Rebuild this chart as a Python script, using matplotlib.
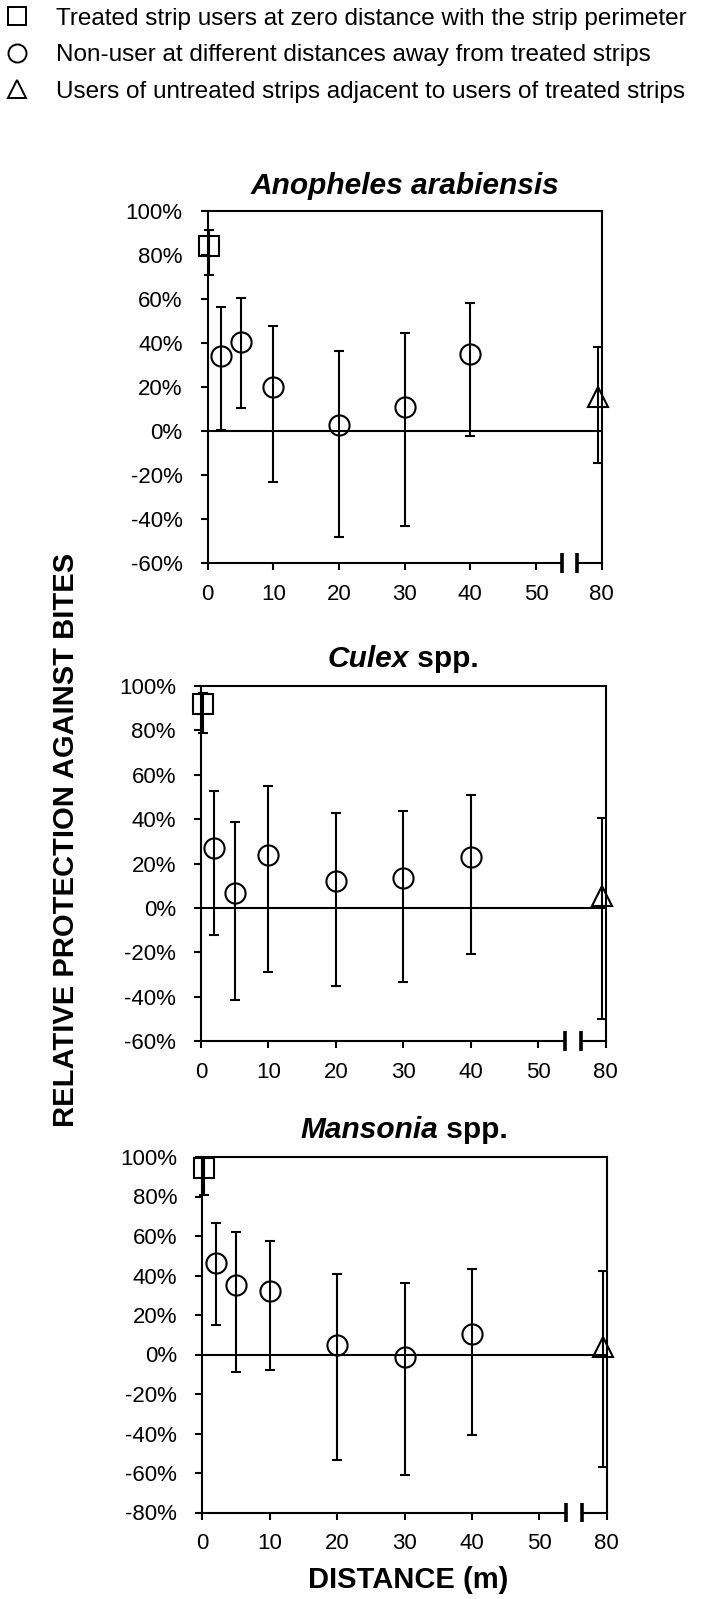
import matplotlib
matplotlib.use('Agg')
import matplotlib.pyplot as plt
from matplotlib.lines import Line2D

plt.rcParams['font.family'] = ['Liberation Sans', 'DejaVu Sans']

# ---------------- data (percent) ----------------
title_italic = ['Anopheles arabiensis', 'Culex', 'Mansonia']
title_normal = ['', ' spp.', ' spp.']

treated_dist = 0
nonuser_dist = [2, 5, 10, 20, 30, 40]
untreated_dist = 80

treated_mean = [84.2, 92.0, 94.6]
treated_low = [70.8, 78.7, 80.6]
treated_high = [91.5, 97.0, 99.3]

nonuser_mean = [[34.1, 40.5, 20.0, 2.7, 11.1, 34.8],
                [27.2, 6.9, 23.9, 12.0, 13.5, 23.1],
                [46.5, 35.3, 32.1, 4.9, -1.4, 10.5]]
nonuser_low = [[0.6, 10.3, -23.3, -48.0, -43.0, -2.1],
               [-12.2, -41.4, -28.7, -35.3, -33.2, -20.9],
               [14.9, -9.1, -8.1, -53.2, -61.1, -41.0]]
nonuser_high = [[56.4, 60.5, 47.9, 36.2, 44.4, 58.3],
                [52.7, 38.7, 55.0, 42.8, 43.8, 50.8],
                [66.6, 61.8, 57.3, 41.0, 36.1, 43.2]]

untreated_mean = [15.6, 5.4, 3.8]
untreated_low = [-14.4, -50.0, -57.0]
untreated_high = [38.2, 40.4, 42.2]

y_limits = [(-60, 100), (-60, 100), (-80, 100)]
x_tick_values = [0, 10, 20, 30, 40, 50, 80]

legend_labels = ['Treated strip users at zero distance with the strip perimeter',
                 'Non-user at different distances away from treated strips',
                 'Users of untreated strips adjacent to users of treated strips']

# ---------------- layout ----------------
W, H = 704, 1599
fig = plt.figure(figsize=(W / 100, H / 100), dpi=100)

# axes boxes in pixels: left, right, top, bottom
boxes = [(207.7, 601.7, 211, 563),
         (201.0, 605.5, 686, 1041),
         (202.3, 606.7, 1157, 1512.5)]

BREAK_AT = 50          # last regular distance
BREAK_POS = 60         # axis position used for the 80 m value
def axis_pos(d):
    return d if d <= BREAK_AT else BREAK_POS

LW = 1.5
FS_TICK = 16
FS_TITLE = 21.5
FS_LABEL = 21
FS_LEGEND = 17.5

renderer = fig.canvas.get_renderer()

for i in range(3):
    l, r, t, b = boxes[i]
    ax = fig.add_axes([l / W, 1 - b / H, (r - l) / W, (b - t) / H])
    ax.set_xlim(0, 60)
    ax.set_ylim(*y_limits[i])

    ekw = dict(ls='none', mfc='none', mec='black', mew=LW, ecolor='black',
               elinewidth=LW, capsize=3.6, capthick=LW, clip_on=False, zorder=3)

    # treated users (square)
    ax.errorbar([axis_pos(treated_dist) + 0.25], [treated_mean[i]],
                yerr=[[treated_mean[i] - treated_low[i]], [treated_high[i] - treated_mean[i]]],
                marker='s', ms=14.5, **ekw)
    # non-users (circles)
    xs = [axis_pos(d) for d in nonuser_dist]
    m = nonuser_mean[i]
    lo = [a - c for a, c in zip(m, nonuser_low[i])]
    hi = [c - a for a, c in zip(m, nonuser_high[i])]
    ax.errorbar(xs, m, yerr=[lo, hi], marker='o', ms=14.5, **ekw)
    # untreated users (triangle)
    ax.errorbar([axis_pos(untreated_dist) - 0.5], [untreated_mean[i]],
                yerr=[[untreated_mean[i] - untreated_low[i]], [untreated_high[i] - untreated_mean[i]]],
                marker='^', ms=14, **ekw)

    ax.axhline(0, color='black', lw=LW, zorder=2)

    # spines
    for s in ['left', 'top', 'right']:
        ax.spines[s].set_linewidth(LW)
    ax.spines['bottom'].set_visible(False)
    xt = ax.get_xaxis_transform()
    ax.plot([0, 54.0], [0, 0], color='black', lw=LW, transform=xt, clip_on=False)
    ax.plot([56.3, 60], [0, 0], color='black', lw=LW, transform=xt, clip_on=False)
    for bx in (54.0, 56.3):
        ax.plot([bx, bx], [-0.028, 0.028], color='black', lw=2.6, transform=xt,
                clip_on=False, solid_capstyle='butt')

    ax.set_xticks([axis_pos(v) for v in x_tick_values])
    ax.set_xticklabels([str(v) for v in x_tick_values])
    yt = list(range(y_limits[i][0], y_limits[i][1] + 1, 20))
    ax.set_yticks(yt)
    ax.set_yticklabels([f'{v}%' for v in yt])
    ax.tick_params(axis='x', direction='out', length=5, width=LW, pad=10,
                   labelsize=FS_TICK, bottom=True)
    ax.tick_params(axis='y', direction='out', length=5, width=LW, pad=13,
                   labelsize=FS_TICK)

    # title (italic genus + normal suffix)
    ty = 1 + (25 if i == 0 else 27) / (b - t)
    t1 = ax.text(0.5, ty, title_italic[i], transform=ax.transAxes, ha='left', va='center',
                 fontsize=FS_TITLE, fontweight='bold', fontstyle='italic')
    t2 = ax.text(0.5, ty, title_normal[i], transform=ax.transAxes, ha='left', va='center',
                 fontsize=FS_TITLE, fontweight='bold')
    w1 = t1.get_window_extent(renderer).width
    w2 = t2.get_window_extent(renderer).width if title_normal[i] else 0
    axw = r - l
    x0 = 0.5 - (w1 + w2) / 2 / axw
    t1.set_x(x0)
    t2.set_x(x0 + w1 / axw)

fig.text(66 / W, 1 - 840 / H, 'RELATIVE PROTECTION AGAINST BITES', rotation=90,
         ha='center', va='center', fontsize=FS_LABEL, fontweight='bold')
fig.text(408 / W, 1 - 1580 / H, 'DISTANCE (m)', ha='center', va='center',
         fontsize=FS_LABEL, fontweight='bold')

fs_px = FS_LEGEND * 100 / 72
handles = [Line2D([], [], ls='none', marker=mk, mfc='none', mec='black', mew=1.4, ms=ms)
           for mk, ms in (('s', 13), ('o', 13), ('^', 13))]
fig.legend(handles, legend_labels, loc='upper left', bbox_to_anchor=(0, 1),
           frameon=False, fontsize=FS_LEGEND, handlelength=19 / fs_px,
           handletextpad=30 / fs_px, labelspacing=0.6, borderaxespad=7.5 / fs_px,
           borderpad=0)

fig.savefig('out.png', dpi=100)
